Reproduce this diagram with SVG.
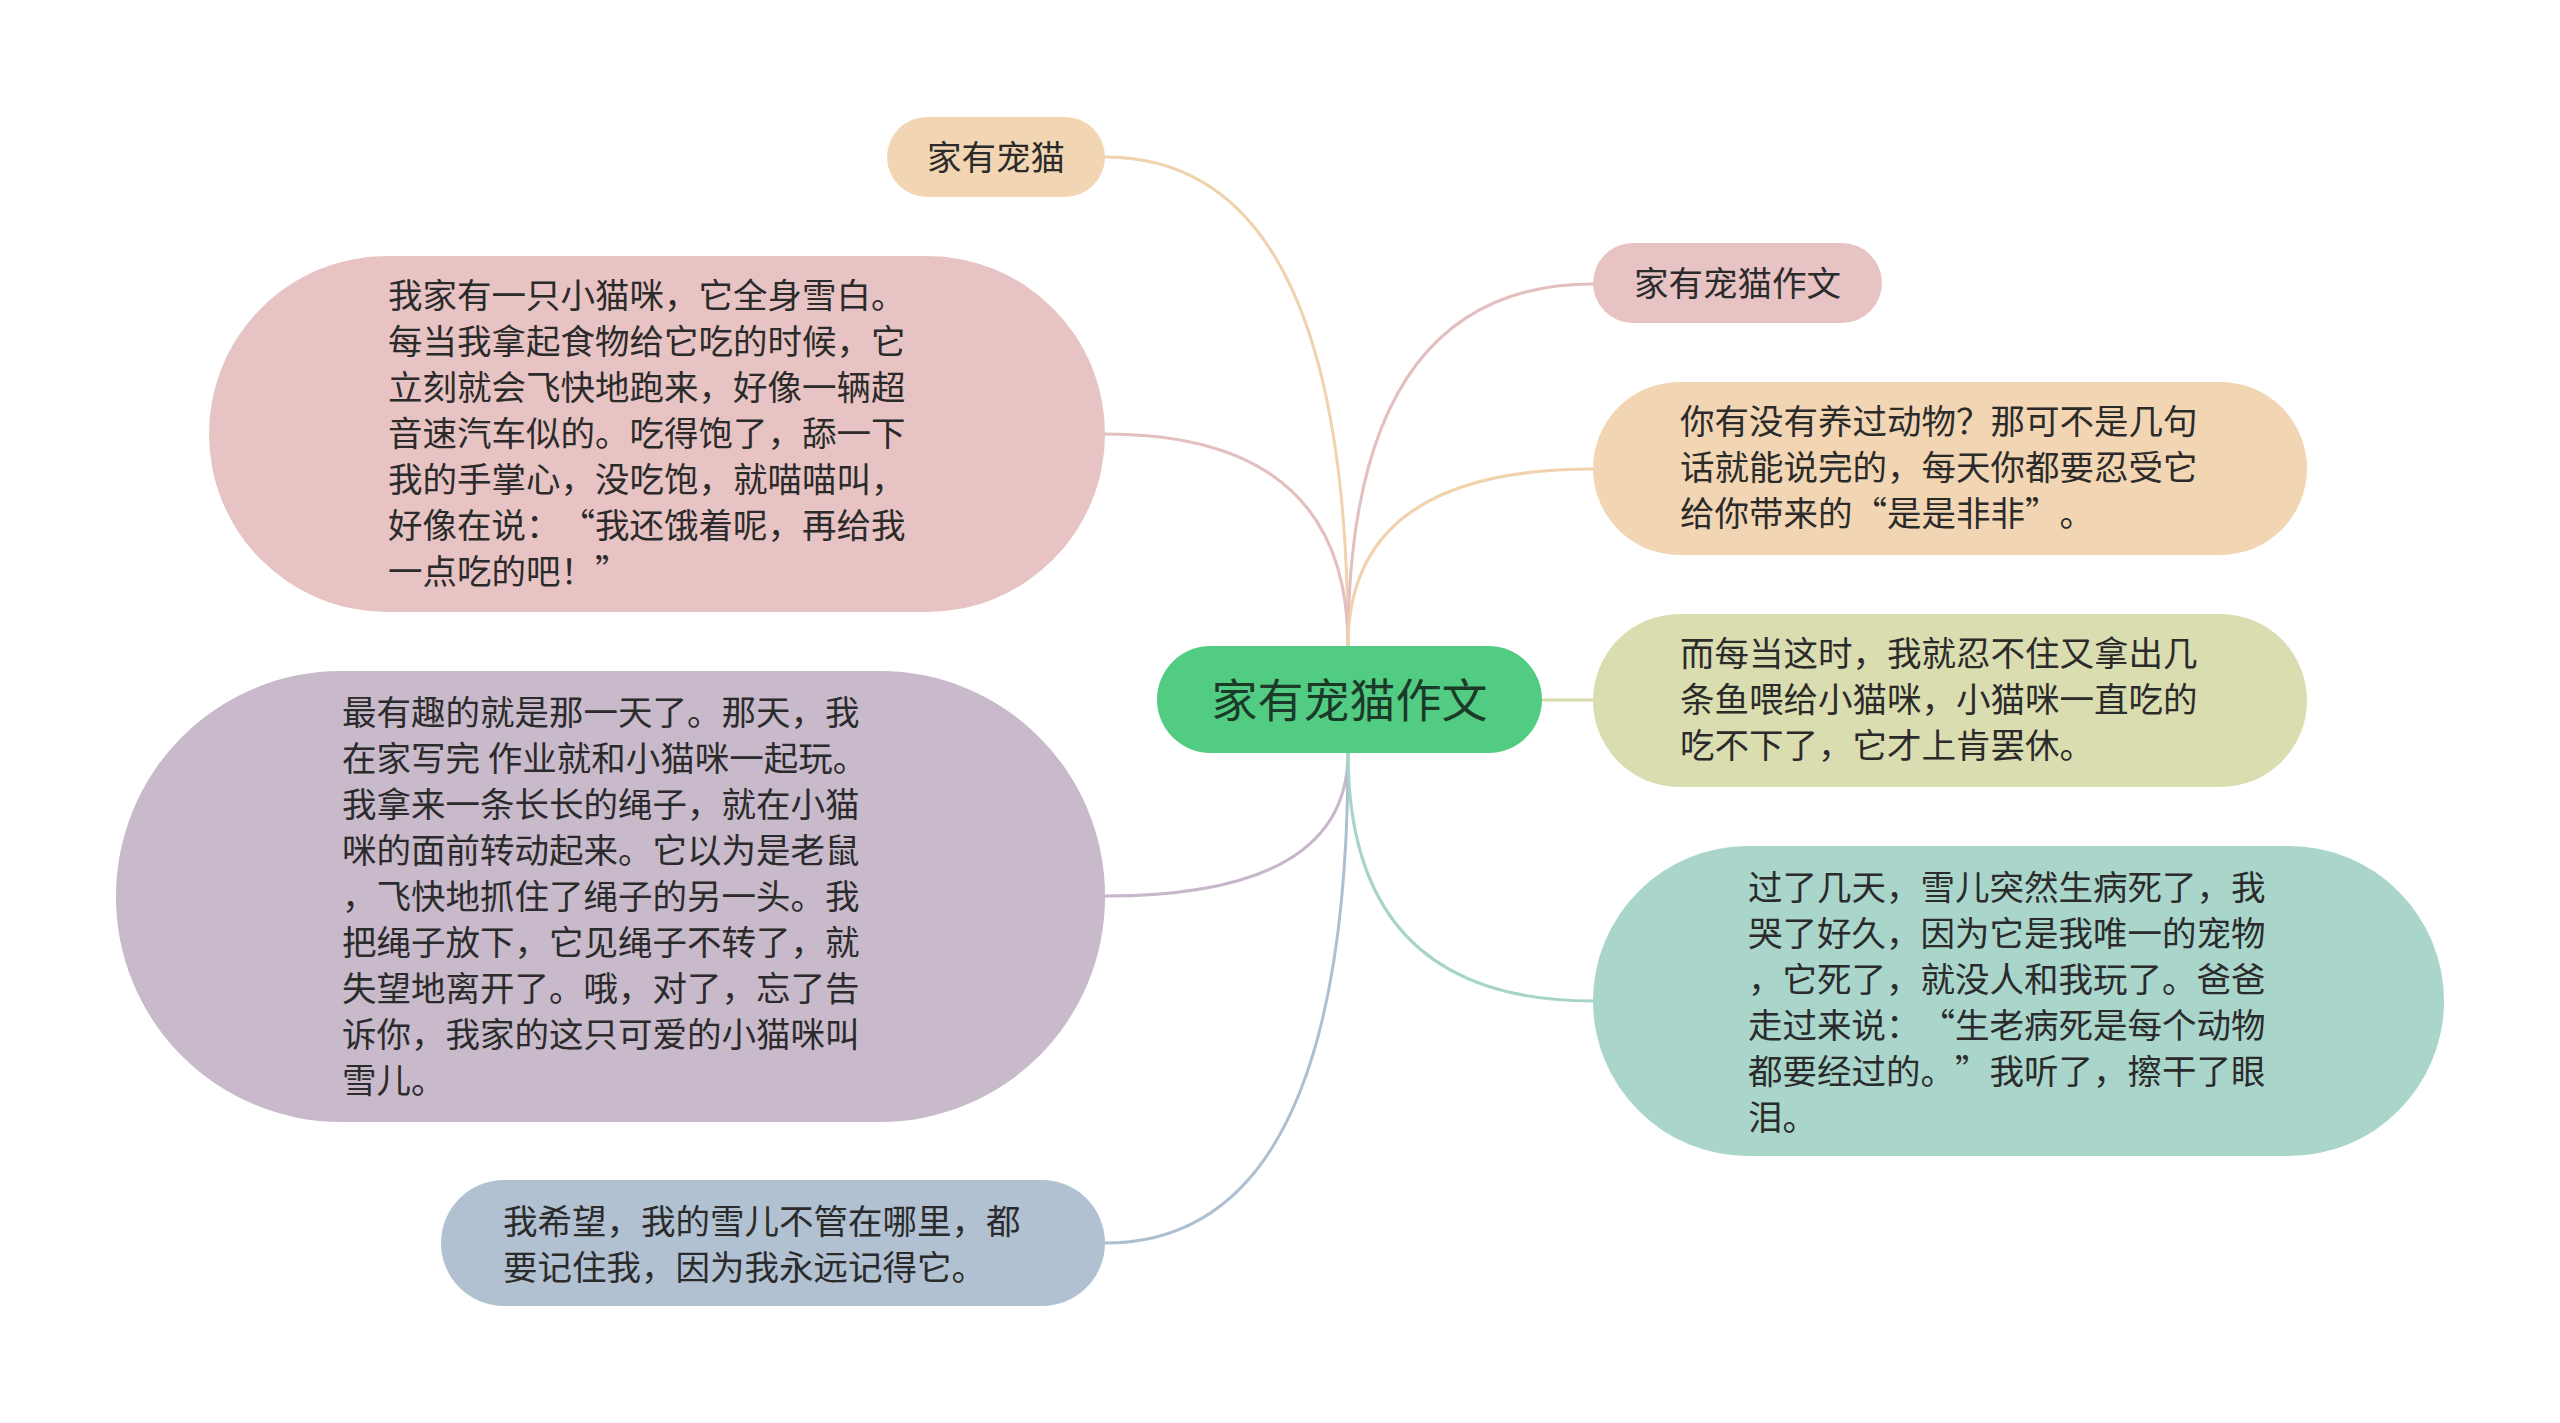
<svg xmlns="http://www.w3.org/2000/svg" width="2560" height="1423" viewBox="0 0 2560 1423">
<style>
text{font-family:"Noto Sans CJK SC","Noto Sans",sans-serif;fill:#2b2b2b;text-spacing-trim:space-all}
.t{font-size:34.5px}
.c{text-anchor:middle}
.ln{fill:none;stroke-width:3;stroke-linecap:round}
</style>
<rect x="0" y="0" width="2560" height="1423" fill="#ffffff"/>
<g id="connectors">
<path class="ln" stroke="#F0D2AD" d="M1105,157 Q1348,157 1348,646"/>
<path class="ln" stroke="#E3BFBF" d="M1105,434 Q1348,434 1348,646"/>
<path class="ln" stroke="#C7B7CA" d="M1105,896 Q1348,896 1348,753"/>
<path class="ln" stroke="#AEBFD0" d="M1105,1243 Q1348,1243 1348,753"/>
<path class="ln" stroke="#E3BFBF" d="M1593,284 Q1348,284 1348,646"/>
<path class="ln" stroke="#F0D2AD" d="M1593,469 Q1348,469 1348,646"/>
<path class="ln" stroke="#D8DBAD" d="M1542,700 L1593,700"/>
<path class="ln" stroke="#A6D4C9" d="M1593,1001 Q1348,1001 1348,753"/>
</g>
<g id="center">
<rect x="1157" y="646" width="385" height="107" rx="53.5" fill="#53CC83"/>
<text x="1349.5" y="717" class="c" style="font-size:46px;fill:#1c3a28">家有宠猫作文</text>
</g>
<g id="n-jiayouchongmao">
<rect x="887" y="117" width="218" height="80" rx="40" fill="#F2D5B2"/>
<text x="996" y="170" class="t c">家有宠猫</text>
</g>
<g id="n-pink-story">
<rect x="209" y="256" width="896" height="356" rx="178" fill="#E8C3C3"/>
<text class="t" x="388" y="308">我家有一只小猫咪，它全身雪白。</text>
<text class="t" x="388" y="354">每当我拿起食物给它吃的时候，它</text>
<text class="t" x="388" y="400">立刻就会飞快地跑来，好像一辆超</text>
<text class="t" x="388" y="446">音速汽车似的。吃得饱了，舔一下</text>
<text class="t" x="388" y="492">我的手掌心，没吃饱，就喵喵叫，</text>
<text class="t" x="388" y="538">好像在说：“我还饿着呢，再给我</text>
<text class="t" x="388" y="584">一点吃的吧！”</text>
</g>
<g id="n-purple-story">
<rect x="116" y="671" width="989" height="451" rx="225" fill="#C8B9CB"/>
<text class="t" x="342" y="725">最有趣的就是那一天了。那天，我</text>
<text class="t" x="342" y="771">在家写完 作业就和小猫咪一起玩。</text>
<text class="t" x="342" y="817">我拿来一条长长的绳子，就在小猫</text>
<text class="t" x="342" y="863">咪的面前转动起来。它以为是老鼠</text>
<text class="t" x="342" y="909">，飞快地抓住了绳子的另一头。我</text>
<text class="t" x="342" y="955">把绳子放下，它见绳子不转了，就</text>
<text class="t" x="342" y="1001">失望地离开了。哦，对了，忘了告</text>
<text class="t" x="342" y="1047">诉你，我家的这只可爱的小猫咪叫</text>
<text class="t" x="342" y="1093">雪儿。</text>
</g>
<g id="n-blue-wish">
<rect x="441" y="1180" width="664" height="126" rx="63" fill="#B1C1D1"/>
<text class="t" x="503" y="1234">我希望，我的雪儿不管在哪里，都</text>
<text class="t" x="503" y="1280">要记住我，因为我永远记得它。</text>
</g>
<g id="n-title-right">
<rect x="1593" y="243" width="289" height="80" rx="40" fill="#E8C3C3"/>
<text x="1737.5" y="296" class="t c">家有宠猫作文</text>
</g>
<g id="n-orange-intro">
<rect x="1593" y="382" width="714" height="173" rx="86.5" fill="#F2D5B2"/>
<text class="t" x="1680" y="434">你有没有养过动物？那可不是几句</text>
<text class="t" x="1680" y="480">话就能说完的，每天你都要忍受它</text>
<text class="t" x="1680" y="526">给你带来的“是是非非”。</text>
</g>
<g id="n-green-fish">
<rect x="1593" y="614" width="714" height="173" rx="86.5" fill="#DADDB0"/>
<text class="t" x="1680" y="666">而每当这时，我就忍不住又拿出几</text>
<text class="t" x="1680" y="712">条鱼喂给小猫咪，小猫咪一直吃的</text>
<text class="t" x="1680" y="758">吃不下了，它才上肯罢休。</text>
</g>
<g id="n-teal-end">
<rect x="1593" y="846" width="851" height="310" rx="155" fill="#A9D5CB"/>
<text class="t" x="1748" y="900">过了几天，雪儿突然生病死了，我</text>
<text class="t" x="1748" y="946">哭了好久，因为它是我唯一的宠物</text>
<text class="t" x="1748" y="992">，它死了，就没人和我玩了。爸爸</text>
<text class="t" x="1748" y="1038">走过来说：“生老病死是每个动物</text>
<text class="t" x="1748" y="1084">都要经过的。”我听了，擦干了眼</text>
<text class="t" x="1748" y="1130">泪。</text>
</g>
</svg>
